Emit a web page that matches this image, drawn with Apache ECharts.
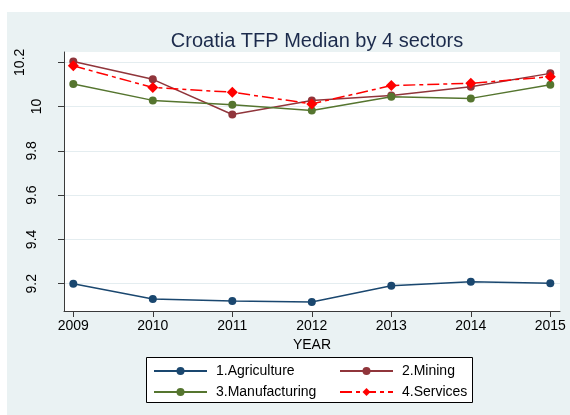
<!DOCTYPE html>
<html>
<head>
<meta charset="utf-8">
<script src="https://cdn.jsdelivr.net/npm/echarts@6/dist/echarts.min.js"></script>
<style>
html,body{margin:0;padding:0;background:#fff;}
#chart{width:570px;height:415px;}
</style>
</head>
<body>
<div id="chart"></div>
<script>
// ---- data ----
const years = [2009, 2010, 2011, 2012, 2013, 2014, 2015];
const agriculture = [9.200, 9.131, 9.122, 9.117, 9.191, 9.209, 9.202];
const mining = [10.204, 10.123, 9.964, 10.027, 10.050, 10.090, 10.150];
const manufacturing = [10.102, 10.028, 10.008, 9.982, 10.044, 10.037, 10.099];
const services = [10.184, 10.086, 10.065, 10.012, 10.095, 10.105, 10.135];
const seriesNames = ['1.Agriculture', '2.Mining', '3.Manufacturing', '4.Services'];
const yTicks = [9.2, 9.4, 9.6, 9.8, 10, 10.2];
const yTicksA = [9.2, 9.4, 9.6, 9.8];
const yTicksB = [10];
const yTicksC = [10.2];
const titleText = 'Croatia TFP Median by 4 sectors';
const xName = 'YEAR';

const font = '"Liberation Sans", Arial, Helvetica, sans-serif';
const axisColor = '#3a3a3a';
const pair = (arr) => years.map((y, i) => [y, arr[i]]);
const fmt = (v) => String(parseFloat(Number(v).toFixed(2)));

const yMin = 9.0767, yMax = 10.2465;
function yAxisCfg(labels, margin, main) {
  return {
    type: 'value', position: 'left', min: yMin, max: yMax,
    axisLine: {show: main, lineStyle: {color: axisColor, width: 1}},
    axisTick: {show: main, length: 6, customValues: yTicks, lineStyle: {color: axisColor}},
    splitLine: {show: main, lineStyle: {color: '#e4edf0', width: 1}},
    axisLabel: {show: true, customValues: labels, rotate: 90, margin: margin,
      color: '#000', fontSize: 14, fontFamily: font, formatter: fmt}
  };
}

const chart = echarts.init(document.getElementById('chart'), null, {renderer: 'canvas'});
chart.setOption({
  backgroundColor: '#fff',
  animation: false,
  graphic: [
    {type: 'rect', z: -10, shape: {x: 7, y: 12, width: 570, height: 410}, style: {fill: '#eaf2f3'}},
    {type: 'rect', z: 1, shape: {x: 146.5, y: 357.5, width: 326, height: 45}, style: {fill: '#fff', stroke: '#000', lineWidth: 1}}
  ],
  title: {
    text: titleText, left: 312, top: 26, textAlign: 'center',
    textStyle: {color: '#1c2b4c', fontSize: 20, fontWeight: 'normal', fontFamily: font}
  },
  grid: {left: 64, top: 52, width: 496, height: 259, show: true, backgroundColor: '#fff', borderWidth: 0},
  xAxis: {
    type: 'value', min: 2008.883, max: 2015.122,
    name: xName, nameLocation: 'middle', nameGap: 23,
    nameTextStyle: {color: '#000', fontSize: 14, fontFamily: font},
    axisLine: {lineStyle: {color: axisColor, width: 1}},
    axisTick: {show: true, length: 6, customValues: years, lineStyle: {color: axisColor}},
    splitLine: {show: false},
    axisLabel: {customValues: years, margin: 8, color: '#000', fontSize: 14, fontFamily: font, formatter: (v) => String(Math.round(v))}
  },
  yAxis: [
    yAxisCfg(yTicksA, 25, true),
    yAxisCfg(yTicksB, 20, false),
    yAxisCfg(yTicksC, 37, false)
  ],
  legend: [
    {data: [seriesNames[0], seriesNames[2]], orient: 'vertical', left: 153, top: 364, padding: 0,
     itemWidth: 53, itemHeight: 10, itemGap: 7, z: 5,
     textStyle: {color: '#000', fontSize: 14, fontFamily: font, padding: [0, 0, 0, 4]}},
    {data: [seriesNames[1], seriesNames[3]], orient: 'vertical', left: 339, top: 364, padding: 0,
     itemWidth: 53, itemHeight: 10, itemGap: 7, z: 5,
     textStyle: {color: '#000', fontSize: 14, fontFamily: font, padding: [0, 0, 0, 4]}}
  ],
  series: [
    {name: seriesNames[0], type: 'line', data: pair(agriculture), symbol: 'circle', symbolSize: 8,
     itemStyle: {color: '#1a476f'}, lineStyle: {color: '#1a476f', width: 1.5}},
    {name: seriesNames[1], type: 'line', data: pair(mining), symbol: 'circle', symbolSize: 8,
     itemStyle: {color: '#90353b'}, lineStyle: {color: '#90353b', width: 1.5}},
    {name: seriesNames[2], type: 'line', data: pair(manufacturing), symbol: 'circle', symbolSize: 8,
     itemStyle: {color: '#55752f'}, lineStyle: {color: '#55752f', width: 1.5}},
    {name: seriesNames[3], type: 'line', data: pair(services), symbol: 'diamond', symbolSize: 11,
     itemStyle: {color: '#ff0000'}, lineStyle: {color: '#ff0000', width: 1.5, type: [12, 4, 4, 4]}}
  ]
});
</script>
</body>
</html>
